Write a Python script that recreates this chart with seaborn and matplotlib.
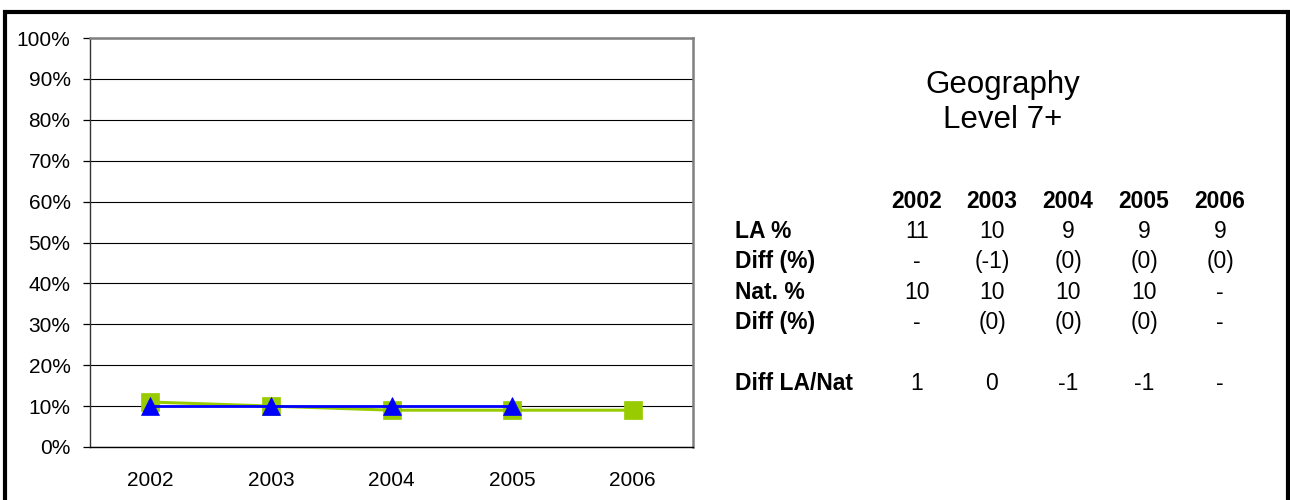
import matplotlib
matplotlib.use('Agg')
import matplotlib.pyplot as plt
import seaborn as sns
import pandas as pd
import numpy as np
from matplotlib.patches import Rectangle
from matplotlib.ticker import FixedLocator, PercentFormatter

years = ['2002', '2003', '2004', '2005', '2006']
la_pct = [11, 10, 9, 9, 9]
nat_pct = [10, 10, 10, 10, np.nan]

title_lines = ['Geography', 'Level 7+']
row_labels = ['LA %', 'Diff (%)', 'Nat. %', 'Diff (%)', '', 'Diff LA/Nat']
row_values = [
    ['11', '10', '9', '9', '9'],
    ['-', '(-1)', '(0)', '(0)', '(0)'],
    ['10', '10', '10', '10', '-'],
    ['-', '(0)', '(0)', '(0)', '-'],
    ['', '', '', '', ''],
    ['1', '0', '-1', '-1', '-'],
]

GREEN = '#99cc00'
BLUE = '#0000ff'


def main():
    sns.set_style('white', {'text.color': 'black', 'xtick.color': 'black', 'ytick.color': 'black'})
    plt.rcParams['font.family'] = ['Liberation Sans', 'DejaVu Sans']

    fig = plt.figure(figsize=(12.9, 5), dpi=100)
    ax = fig.add_axes([90 / 1290, 1 - 447 / 500, (693 - 90) / 1290, (447 - 38) / 500])

    df = pd.DataFrame({'year': years, 'LA': la_pct, 'Nat': nat_pct})
    sns.lineplot(data=df, x='year', y='LA', ax=ax, color=GREEN, lw=2.2,
                 marker='s', markersize=13, markeredgecolor=GREEN, markeredgewidth=0.5, zorder=3)
    sns.lineplot(data=df.dropna(), x='year', y='Nat', ax=ax, color=BLUE, lw=2,
                 marker='^', markersize=13, markeredgecolor=BLUE, markeredgewidth=0.5, zorder=4)

    ax.set_xlim(-0.5, len(years) - 0.5)
    ax.set_ylim(0, 100)
    ax.set_xlabel('')
    ax.set_ylabel('')

    ax.set_yticks(range(0, 101, 10))
    ax.yaxis.set_major_formatter(PercentFormatter(decimals=0))
    ax.yaxis.grid(True, color='black', lw=0.8)
    ax.set_axisbelow(True)

    ax.xaxis.set_minor_locator(FixedLocator(np.arange(-0.5, len(years), 1.0)))
    ax.tick_params(axis='x', which='major', length=0, pad=17, labelsize=15)
    ax.tick_params(axis='x', which='minor', length=6, width=0.9, color='black', direction='out')
    ax.tick_params(axis='y', which='major', length=5, width=0.9, color='black',
                   direction='out', left=True, pad=9, labelsize=15)

    for side in ['top', 'right']:
        ax.spines[side].set_color('#808080')
        ax.spines[side].set_linewidth(1.8)
    ax.spines['left'].set_color('#333333')
    ax.spines['bottom'].set_color('black')
    for side in ['left', 'bottom']:
        ax.spines[side].set_linewidth(1)

    # title block
    fig.text(1003 / 1290, 1 - 85 / 500, title_lines[0], ha='center', va='center', fontsize=22.5)
    fig.text(1003 / 1290, 1 - 120 / 500, title_lines[1], ha='center', va='center', fontsize=22.5)

    # data table
    col_x = [917, 992, 1068, 1144, 1220]
    y0 = 201
    fs = 16.5
    for x, yr in zip(col_x, years):
        fig.text(x / 1290, 1 - y0 / 500, yr, ha='center', va='center', fontsize=fs, fontweight='bold')
    for i, (lab, vals) in enumerate(zip(row_labels, row_values)):
        y = y0 + 30.4 * (i + 1)
        fig.text(735 / 1290, 1 - y / 500, lab, ha='left', va='center', fontsize=fs, fontweight='bold')
        for x, v in zip(col_x, vals):
            fig.text(x / 1290, 1 - y / 500, v, ha='center', va='center', fontsize=fs)

    # outer frame (bottom edge runs off the canvas)
    fig.patches.append(Rectangle((5 / 1290, -6 / 500), 1283 / 1290, 494 / 500,
                                 transform=fig.transFigure, fill=False,
                                 edgecolor='black', lw=3))

    fig.savefig('out.png', dpi=100)


if __name__ == '__main__':
    main()
